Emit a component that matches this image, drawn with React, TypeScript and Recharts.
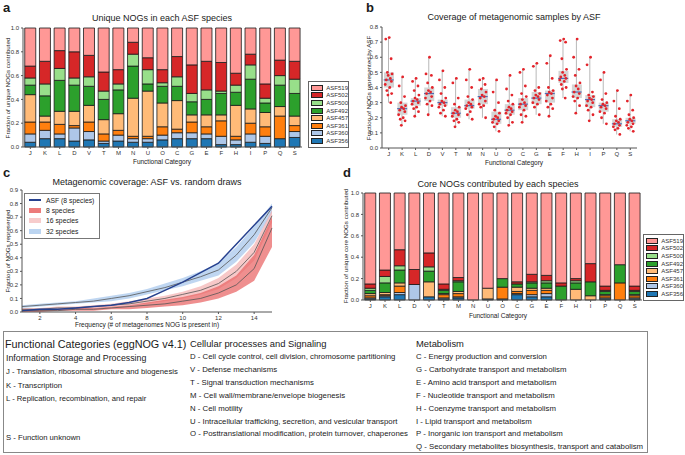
import React from 'react';
import { BarChart, Bar, ComposedChart, XAxis, YAxis, Scatter, Area, Line } from 'recharts';

const FONT = '"Liberation Sans", Arial, Helvetica, sans-serif';

const categories = ['J', 'K', 'L', 'D', 'V', 'T', 'M', 'N', 'U', 'O', 'C', 'G', 'E', 'F', 'H', 'I', 'P', 'Q', 'S'];
const species = ['ASF356', 'ASF360', 'ASF361', 'ASF457', 'ASF492', 'ASF500', 'ASF502', 'ASF519'];
const speciesColors = ['#1f77b4', '#aec7e8', '#ff7f0e', '#ffbb78', '#2ca02c', '#98df8a', '#d62728', '#ff9896'];

// a: fraction of unique NOGs contributed (per species, stacked bottom -> top)
const unique356 = [0.04, 0.07, 0.07, 0.05, 0.06, 0.03, 0.05, 0.04, 0.04, 0.06, 0.07, 0.07, 0.07, 0.02, 0.02, 0.04, 0.03, 0.07, 0.08];
const unique360 = [0.07, 0.07, 0.04, 0.11, 0.07, 0.02, 0.05, 0.03, 0.03, 0.04, 0.05, 0.05, 0.04, 0.07, 0.04, 0.07, 0.06, 0.0, 0.05];
const unique361 = [0.10, 0.07, 0.08, 0.02, 0.08, 0.06, 0.04, 0.02, 0.02, 0.07, 0.03, 0.09, 0.06, 0.13, 0.03, 0.09, 0.08, 0.19, 0.05];
const unique457 = [0.23, 0.05, 0.11, 0.12, 0.14, 0.12, 0.14, 0.32, 0.38, 0.20, 0.24, 0.06, 0.10, 0.05, 0.26, 0.12, 0.12, 0.08, 0.08];
const unique492 = [0.08, 0.17, 0.26, 0.22, 0.16, 0.17, 0.20, 0.27, 0.06, 0.14, 0.12, 0.11, 0.13, 0.18, 0.11, 0.25, 0.08, 0.18, 0.19];
const unique500 = [0.06, 0.10, 0.10, 0.06, 0.08, 0.07, 0.05, 0.10, 0.12, 0.03, 0.08, 0.07, 0.08, 0.02, 0.06, 0.12, 0.04, 0.08, 0.12];
const unique502 = [0.10, 0.19, 0.15, 0.22, 0.18, 0.16, 0.12, 0.10, 0.10, 0.11, 0.17, 0.24, 0.24, 0.24, 0.10, 0.09, 0.12, 0.13, 0.15];
const unique519 = [0.32, 0.28, 0.19, 0.20, 0.23, 0.37, 0.35, 0.12, 0.25, 0.35, 0.24, 0.31, 0.28, 0.29, 0.38, 0.22, 0.47, 0.27, 0.28];

// d: fraction of core NOGs contributed
const core356 = [0.01, 0.03, 0.05, 0, 0.03, 0.01, 0.02, 0, 0.01, 0.01, 0.05, 0.03, 0.03, 0, 0, 0, 0.01, 0, 0.01];
const core360 = [0.01, 0.01, 0.02, 0.145, 0, 0.01, 0.01, 0, 0, 0, 0.01, 0.02, 0.03, 0, 0, 0, 0.01, 0, 0.01];
const core361 = [0.02, 0.01, 0.06, 0, 0, 0.03, 0.03, 0, 0, 0.11, 0.02, 0.04, 0.03, 0, 0, 0, 0.02, 0.16, 0.02];
const core457 = [0.02, 0.02, 0.03, 0, 0.14, 0.01, 0.02, 0, 0.10, 0, 0.04, 0.02, 0.02, 0, 0.10, 0.04, 0.01, 0, 0.01];
const core492 = [0.03, 0.09, 0.12, 0, 0.10, 0.03, 0.09, 0, 0, 0.08, 0.03, 0.05, 0.05, 0.13, 0.06, 0.13, 0.03, 0.17, 0.03];
const core500 = [0.02, 0.06, 0.04, 0, 0.04, 0.01, 0.01, 0, 0, 0, 0, 0.01, 0.02, 0, 0.02, 0, 0.01, 0, 0.01];
const core502 = [0.04, 0.06, 0.15, 0.14, 0.13, 0.05, 0.03, 0, 0, 0, 0.02, 0.07, 0.05, 0.03, 0.02, 0.17, 0.04, 0, 0.04];
const core519 = [0.85, 0.72, 0.53, 0.715, 0.56, 0.85, 0.79, 1.0, 0.89, 0.80, 0.83, 0.76, 0.77, 0.84, 0.80, 0.66, 0.87, 0.67, 0.87];

// b: coverage of metagenomic samples by ASF
const coverageMedian = [0.45, 0.26, 0.31, 0.36, 0.30, 0.23, 0.28, 0.34, 0.19, 0.25, 0.29, 0.33, 0.36, 0.46, 0.37, 0.32, 0.28, 0.16, 0.18];
const coverageQ1 = [0.40, 0.22, 0.28, 0.31, 0.28, 0.20, 0.26, 0.29, 0.16, 0.22, 0.25, 0.29, 0.30, 0.43, 0.33, 0.27, 0.24, 0.14, 0.16];
const coverageQ3 = [0.50, 0.30, 0.33, 0.40, 0.32, 0.27, 0.32, 0.39, 0.24, 0.29, 0.33, 0.37, 0.38, 0.51, 0.42, 0.35, 0.30, 0.19, 0.20];
const coverageMin = [0.30, 0.15, 0.21, 0.22, 0.21, 0.14, 0.19, 0.20, 0.11, 0.15, 0.17, 0.22, 0.21, 0.33, 0.23, 0.18, 0.16, 0.09, 0.11];
const coverageMax = [0.73, 0.47, 0.46, 0.60, 0.51, 0.46, 0.52, 0.46, 0.45, 0.48, 0.52, 0.56, 0.61, 0.72, 0.72, 0.60, 0.50, 0.38, 0.35];
const coverageSamples = [
  [0.73, 0.72, 0.59, 0.50, 0.49, 0.48, 0.46, 0.45, 0.44, 0.42, 0.40, 0.38, 0.36, 0.35, 0.30],
  [0.47, 0.41, 0.34, 0.30, 0.28, 0.27, 0.26, 0.25, 0.24, 0.22, 0.20, 0.19, 0.18, 0.15],
  [0.46, 0.44, 0.41, 0.38, 0.35, 0.33, 0.32, 0.31, 0.30, 0.29, 0.27, 0.26, 0.24, 0.21],
  [0.60, 0.49, 0.48, 0.43, 0.40, 0.38, 0.37, 0.36, 0.34, 0.33, 0.31, 0.29, 0.28, 0.22],
  [0.51, 0.45, 0.40, 0.36, 0.33, 0.31, 0.30, 0.29, 0.28, 0.27, 0.25, 0.23, 0.21],
  [0.46, 0.43, 0.33, 0.29, 0.27, 0.25, 0.24, 0.23, 0.22, 0.21, 0.19, 0.18, 0.17, 0.14],
  [0.52, 0.45, 0.40, 0.34, 0.32, 0.30, 0.29, 0.28, 0.27, 0.26, 0.24, 0.22, 0.19],
  [0.46, 0.45, 0.42, 0.39, 0.37, 0.35, 0.34, 0.33, 0.31, 0.29, 0.28, 0.27, 0.20],
  [0.45, 0.37, 0.30, 0.25, 0.23, 0.21, 0.20, 0.19, 0.18, 0.17, 0.16, 0.14, 0.11],
  [0.48, 0.39, 0.35, 0.31, 0.29, 0.27, 0.26, 0.25, 0.24, 0.23, 0.22, 0.20, 0.17, 0.15],
  [0.52, 0.50, 0.41, 0.36, 0.34, 0.32, 0.30, 0.29, 0.28, 0.27, 0.25, 0.22, 0.21, 0.17],
  [0.56, 0.54, 0.40, 0.38, 0.36, 0.35, 0.34, 0.33, 0.32, 0.30, 0.29, 0.27, 0.22],
  [0.61, 0.56, 0.46, 0.40, 0.38, 0.37, 0.36, 0.35, 0.33, 0.31, 0.29, 0.27, 0.26, 0.21],
  [0.72, 0.71, 0.70, 0.59, 0.52, 0.50, 0.48, 0.47, 0.46, 0.45, 0.44, 0.42, 0.40, 0.39, 0.33],
  [0.72, 0.60, 0.52, 0.48, 0.43, 0.41, 0.39, 0.37, 0.36, 0.34, 0.33, 0.31, 0.28, 0.23],
  [0.60, 0.55, 0.37, 0.35, 0.34, 0.33, 0.32, 0.31, 0.30, 0.28, 0.27, 0.25, 0.22, 0.18],
  [0.50, 0.45, 0.36, 0.32, 0.30, 0.29, 0.28, 0.27, 0.26, 0.24, 0.23, 0.20, 0.16],
  [0.38, 0.31, 0.26, 0.21, 0.19, 0.18, 0.17, 0.16, 0.15, 0.14, 0.13, 0.12, 0.09],
  [0.35, 0.31, 0.25, 0.22, 0.20, 0.19, 0.18, 0.17, 0.16, 0.15, 0.14, 0.13, 0.11],
];
// horizontal spread of the dots, in category widths
const jitter = [0.04, -0.22, 0.18, -0.1, 0.25, -0.04, 0.12, -0.18, 0.2, -0.26, 0.08, -0.14, 0.22, -0.06, 0.15];

// c: metagenomic coverage vs random draws
const frequency = [1, 2, 3, 4, 5, 6, 7, 8, 9, 10, 11, 12, 13, 14, 15];
const asfCoverage = [0.01, 0.02, 0.02, 0.03, 0.04, 0.05, 0.07, 0.10, 0.16, 0.22, 0.29, 0.36, 0.50, 0.64, 0.78];
const draw32Mean = [0.04, 0.05, 0.06, 0.07, 0.08, 0.10, 0.12, 0.15, 0.18, 0.22, 0.26, 0.31, 0.42, 0.57, 0.77];
const draw32Low = [0.03, 0.04, 0.05, 0.06, 0.07, 0.08, 0.10, 0.13, 0.16, 0.19, 0.23, 0.27, 0.37, 0.51, 0.73];
const draw32High = [0.05, 0.06, 0.07, 0.08, 0.10, 0.12, 0.14, 0.17, 0.21, 0.25, 0.30, 0.36, 0.48, 0.63, 0.80];
const draw16Mean = [0.02, 0.02, 0.03, 0.03, 0.04, 0.05, 0.06, 0.08, 0.10, 0.13, 0.16, 0.21, 0.30, 0.44, 0.71];
const draw16Low = [0.01, 0.01, 0.02, 0.02, 0.03, 0.04, 0.05, 0.06, 0.08, 0.10, 0.13, 0.17, 0.25, 0.38, 0.66];
const draw16High = [0.03, 0.03, 0.04, 0.04, 0.05, 0.06, 0.08, 0.10, 0.12, 0.15, 0.19, 0.25, 0.35, 0.50, 0.75];
const draw8Mean = [0.01, 0.01, 0.01, 0.02, 0.02, 0.03, 0.04, 0.05, 0.06, 0.08, 0.10, 0.14, 0.20, 0.32, 0.62];
const draw8Low = [0.0, 0.0, 0.01, 0.01, 0.01, 0.02, 0.02, 0.03, 0.04, 0.05, 0.07, 0.10, 0.15, 0.23, 0.48];
const draw8High = [0.02, 0.02, 0.02, 0.03, 0.03, 0.04, 0.05, 0.07, 0.09, 0.11, 0.14, 0.19, 0.27, 0.42, 0.70];

const infoItems = ['J - Translation, ribosomal structure and biogenesis', 'K - Transcription', 'L - Replication, recombination, and repair'];
const cellularItems = [
  'D - Cell cycle control, cell division, chromosome partitioning',
  'V - Defense mechanisms',
  'T - Signal transduction mechanisms',
  'M - Cell wall/membrane/envelope biogenesis',
  'N - Cell motility',
  'U - Intracellular trafficking, secretion, and vesicular transport',
  'O - Posttranslational modification, protein turnover, chaperones',
];
const metabolismItems = [
  'C - Energy production and conversion',
  'G - Carbohydrate transport and metabolism',
  'E - Amino acid transport and metabolism',
  'F - Nucleotide transport and metabolism',
  'H - Coenzyme transport and metabolism',
  'I - Lipid transport and metabolism',
  'P - Inorganic ion transport and metabolism',
  'Q - Secondary metabolites biosynthesis, transport and catabolism',
];

const tickStyle = { fontSize: 6, fill: '#333', fontFamily: FONT };
const axisStroke = { stroke: '#555' };
const fmt1 = (v: number) => v.toFixed(1);

const stackRows = (bySpecies: number[][]) =>
  categories.map((cat, i) => {
    const row: Record<string, any> = { cat };
    species.forEach((s, k) => (row[s] = bySpecies[k][i]));
    return row;
  });

const uniqueRows = stackRows([unique356, unique360, unique361, unique457, unique492, unique500, unique502, unique519]);
const coreRows = stackRows([core356, core360, core361, core457, core492, core500, core502, core519]);

const boxRows = categories.map((cat, i) => ({
  cat,
  whisker: [coverageMin[i], coverageMax[i]],
  box: [coverageQ1[i], coverageQ3[i]],
  median: coverageMedian[i],
}));
const samplePoints = coverageSamples.flatMap((vals, i) => vals.map((v, j) => ({ x: i + jitter[j % jitter.length], y: v })));

const coverageRows = frequency.map((f, i) => ({
  f,
  asf: asfCoverage[i],
  m32: draw32Mean[i],
  m16: draw16Mean[i],
  m8: draw8Mean[i],
  band32: [draw32Low[i], draw32High[i]],
  band16: [draw16Low[i], draw16High[i]],
  band8: [draw8Low[i], draw8High[i]],
}));

type CaptionProps = { x: number; y: number; size: number; text: string; center?: boolean; bold?: boolean };
const Caption = ({ x, y, size, text, center = false, bold = false }: CaptionProps) => (
  <div style={{ position: 'absolute', left: x, top: y, width: 0, height: 0 }}>
    <div
      style={{
        position: 'absolute',
        left: 0,
        top: 0,
        fontSize: size,
        fontWeight: bold ? 700 : 400,
        fontFamily: FONT,
        color: '#1a1a1a',
        whiteSpace: 'nowrap',
        lineHeight: 1,
        transform: `translate(${center ? '-50%' : '0'}, -50%)`,
      }}
    >
      {text}
    </div>
  </div>
);

// rotated axis titles, drawn as svg text
const yTitles = [
  { x: 7, y: 88, text: 'Fraction of unique NOGs contributed' },
  { x: 368, y: 88, text: 'Fraction of NOGs represented by ASF' },
  { x: 7, y: 251, text: 'Fraction of NOGs represented' },
  { x: 345, y: 246, text: 'Fraction of unique core NOGs contributed' },
];

const YTitles = () => (
  <svg width={685} height={455} style={{ position: 'absolute', left: 0, top: 0, pointerEvents: 'none' }}>
    {yTitles.map((t) => (
      <text
        key={t.text}
        transform={`translate(${t.x},${t.y}) rotate(-90)`}
        textAnchor="middle"
        dominantBaseline="central"
        fontSize={6.2}
        fontFamily={FONT}
        fill="#1a1a1a"
      >
        {t.text}
      </text>
    ))}
  </svg>
);

const SpeciesLegend = ({ left, top }: { left: number; top: number }) => (
  <div style={{ position: 'absolute', left, top, width: 39, border: '1px solid #666', background: '#fff', padding: '2px 0' }}>
    {[...species].reverse().map((s) => (
      <div key={s} style={{ display: 'flex', alignItems: 'center', height: 7.6, paddingLeft: 2 }}>
        <div style={{ width: 12, height: 4, background: speciesColors[species.indexOf(s)], border: '0.8px solid #222' }} />
        <span style={{ fontSize: 6, fontFamily: FONT, color: '#333', marginLeft: 3 }}>{s}</span>
      </div>
    ))}
  </div>
);

const StackedChart = ({ rows, height, top }: { rows: any[]; height: number; top: number }) => (
  <BarChart width={345} height={height} data={rows} margin={{ top, right: 43, bottom: 9, left: 9 }} barCategoryGap="12%">
    <XAxis dataKey="cat" interval={0} tick={tickStyle} tickSize={2} axisLine={axisStroke} tickLine={axisStroke} height={12} />
    <XAxis xAxisId="top" orientation="top" dataKey="cat" height={0} tick={false} tickLine={false} axisLine={axisStroke} />
    <YAxis domain={[0, 1]} ticks={[0, 0.2, 0.4, 0.6, 0.8, 1]} tickFormatter={fmt1} tick={tickStyle} tickSize={2} width={14} axisLine={axisStroke} tickLine={axisStroke} />
    <YAxis yAxisId="right" orientation="right" width={0} tick={false} tickLine={false} axisLine={axisStroke} />
    {species.map((s, k) => (
      <Bar key={s} dataKey={s} stackId="s" fill={speciesColors[k]} stroke="#1a1a1a" strokeWidth={0.8} isAnimationActive={false} />
    ))}
  </BarChart>
);

const MedianMark = (p: any) => <line x1={p.cx - 5} x2={p.cx + 5} y1={p.cy} y2={p.cy} stroke="#4f6cb5" strokeWidth={1.2} />;
const SampleDot = (p: any) => <circle cx={p.cx} cy={p.cy} r={1.4} fill="#e3242b" />;

const CoverageLegend = () => {
  const rows = [
    { label: 'ASF (8 species)', line: true, color: '#26418f' },
    { label: '8 species', color: '#ec7b7b' },
    { label: '16 species', color: '#f7cccc' },
    { label: '32 species', color: '#bcd5f1' },
  ];
  return (
    <div style={{ position: 'absolute', left: 24, top: 193, width: 74, height: 43, border: '1px solid #777', background: '#fff', paddingTop: 1 }}>
      {rows.map((r) => (
        <div key={r.label} style={{ display: 'flex', alignItems: 'center', height: 10.3, paddingLeft: 4 }}>
          {r.line ? (
            <div style={{ width: 12, height: 1.6, background: r.color }} />
          ) : (
            <div style={{ width: 12, height: 5, background: r.color }} />
          )}
          <span style={{ fontSize: 6.8, fontFamily: FONT, color: '#222', marginLeft: 5 }}>{r.label}</span>
        </div>
      ))}
    </div>
  );
};

const App = () => (
  <div style={{ position: 'absolute', left: 0, top: 0, width: 685, height: 455, background: '#fff', overflow: 'hidden', fontFamily: FONT }}>
    {/* a */}
    <div style={{ position: 'absolute', left: 0, top: 0 }}>
      <StackedChart rows={uniqueRows} height={168} top={28} />
    </div>
    <Caption x={3} y={7} size={13} bold text="a" />
    <Caption x={162} y={18} size={9} center text="Unique NOGs in each ASF species" />
    <Caption x={162} y={162} size={6.5} center text="Functional Category" />
    <SpeciesLegend left={308} top={81} />

    {/* b */}
    <div style={{ position: 'absolute', left: 340, top: 0 }}>
      <ComposedChart width={345} height={170} data={boxRows} margin={{ top: 27, right: 48, bottom: 10, left: 28 }}>
        <XAxis dataKey="cat" interval={0} tick={tickStyle} tickSize={2} axisLine={axisStroke} tickLine={axisStroke} height={12} />
        <XAxis xAxisId="box" dataKey="cat" hide />
        <XAxis xAxisId="pts" dataKey="x" type="number" domain={[-0.5, 18.5]} hide />
        <XAxis xAxisId="top" orientation="top" dataKey="cat" height={0} tick={false} tickLine={false} axisLine={axisStroke} />
        <YAxis domain={[0, 0.8]} ticks={[0, 0.1, 0.2, 0.3, 0.4, 0.5, 0.6, 0.7, 0.8]} tickFormatter={fmt1} tick={tickStyle} tickSize={2} width={14} axisLine={axisStroke} tickLine={axisStroke} />
        <YAxis yAxisId="right" orientation="right" width={0} tick={false} tickLine={false} axisLine={axisStroke} />
        <Bar dataKey="whisker" barSize={1} fill="#b8b8b8" isAnimationActive={false} />
        <Bar xAxisId="box" dataKey="box" barSize={10} fill="#d4d4d4" isAnimationActive={false} />
        <Scatter dataKey="median" shape={MedianMark} isAnimationActive={false} />
        <Scatter xAxisId="pts" data={samplePoints} dataKey="y" shape={SampleDot} isAnimationActive={false} />
      </ComposedChart>
    </div>
    <Caption x={366} y={7} size={13} bold text="b" />
    <Caption x={514} y={17} size={9} center text="Coverage of metagenomic samples by ASF" />
    <Caption x={514} y={163} size={6.5} center text="Functional Category" />

    {/* c */}
    <div style={{ position: 'absolute', left: 0, top: 170 }}>
      <ComposedChart width={290} height={152} data={coverageRows} margin={{ top: 20, right: 18, bottom: 1, left: 8 }}>
        <XAxis dataKey="f" type="number" domain={[1, 15]} ticks={[2, 4, 6, 8, 10, 12, 14]} tick={tickStyle} tickSize={2} axisLine={axisStroke} tickLine={axisStroke} height={9} />
        <XAxis xAxisId="top" orientation="top" dataKey="f" type="number" domain={[1, 15]} height={0} tick={false} tickLine={false} axisLine={axisStroke} />
        <YAxis domain={[0, 0.9]} ticks={[0, 0.1, 0.2, 0.3, 0.4, 0.5, 0.6, 0.7, 0.8, 0.9]} tickFormatter={fmt1} tick={tickStyle} tickSize={2} width={14} axisLine={axisStroke} tickLine={axisStroke} />
        <YAxis yAxisId="right" orientation="right" width={0} tick={false} tickLine={false} axisLine={axisStroke} />
        <Area dataKey="band32" type="linear" stroke="none" fill="#a9c8ec" fillOpacity={0.75} isAnimationActive={false} />
        <Area dataKey="band16" type="linear" stroke="none" fill="#f4b0b0" fillOpacity={0.7} isAnimationActive={false} />
        <Area dataKey="band8" type="linear" stroke="none" fill="#e8605f" fillOpacity={0.7} isAnimationActive={false} />
        <Line dataKey="m32" type="linear" stroke="#555" strokeWidth={0.8} dot={false} isAnimationActive={false} />
        <Line dataKey="m16" type="linear" stroke="#555" strokeWidth={0.8} dot={false} isAnimationActive={false} />
        <Line dataKey="m8" type="linear" stroke="#555" strokeWidth={0.8} dot={false} isAnimationActive={false} />
        <Line dataKey="asf" type="linear" stroke="#26418f" strokeWidth={1.5} dot={false} isAnimationActive={false} />
      </ComposedChart>
    </div>
    <CoverageLegend />
    <Caption x={3} y={172} size={13} bold text="c" />
    <Caption x={147} y={182} size={9} center text="Metagenomic coverage: ASF vs. random draws" />
    <Caption x={147} y={325} size={6.5} center text="Frequency (# of metagenomes NOG is present in)" />

    {/* d */}
    <div style={{ position: 'absolute', left: 340, top: 170 }}>
      <StackedChart rows={coreRows} height={151} top={23} />
    </div>
    <Caption x={343} y={172} size={13} bold text="d" />
    <Caption x={498} y={184} size={9} center text="Core NOGs contributed by each species" />
    <Caption x={498} y={316} size={6.5} center text="Functional Category" />
    <SpeciesLegend left={643} top={234} />

    <YTitles />

    {/* functional category key */}
    <div style={{ position: 'absolute', left: 3, top: 331, width: 643, height: 120, border: '1px solid #888' }} />
    <Caption x={5} y={344} size={10.8} text="Functional Categories (eggNOG v4.1)" />
    <Caption x={6} y={358} size={8.8} text="Information Storage and Processing" />
    {infoItems.map((t, i) => (
      <Caption key={t} x={6} y={372 + i * 13.5} size={7.7} text={t} />
    ))}
    <Caption x={6} y={438} size={7.7} text="S - Function unknown" />
    <Caption x={190} y={344} size={9.4} text="Cellular processes and Signaling" />
    {cellularItems.map((t, i) => (
      <Caption key={t} x={190} y={357 + i * 12.9} size={7.8} text={t} />
    ))}
    <Caption x={416} y={344} size={9.4} text="Metabolism" />
    {metabolismItems.map((t, i) => (
      <Caption key={t} x={416} y={357 + i * 12.9} size={7.8} text={t} />
    ))}
  </div>
);

export default App;
